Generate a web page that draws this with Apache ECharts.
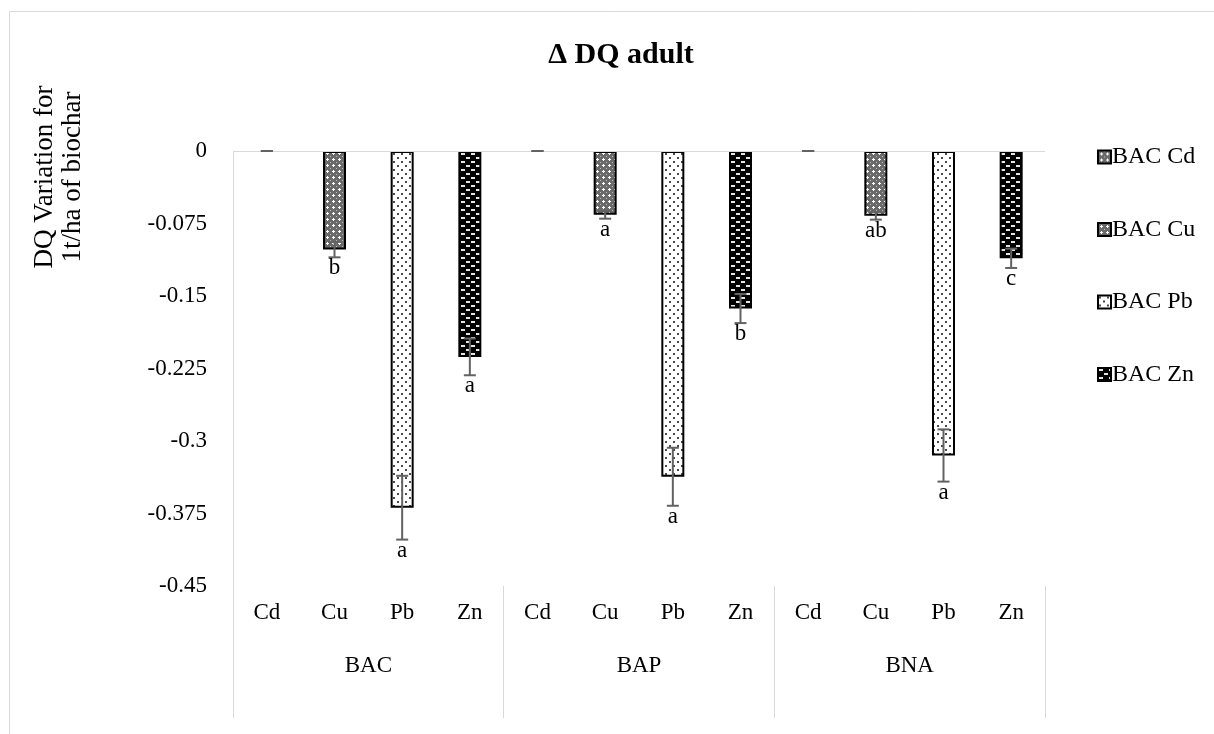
<!DOCTYPE html>
<html>
<head>
<meta charset="utf-8">
<script src="https://cdn.jsdelivr.net/npm/echarts@6/dist/echarts.min.js"></script>
<style>html,body{margin:0;padding:0;background:#fff}#chart{width:1214px;height:734px}</style>
</head>
<body>
<div id="chart"></div>
<script>
// ---- data ----
const groups = ['BAC', 'BAP', 'BNA'];
const metals = ['Cd', 'Cu', 'Pb', 'Zn'];
const seriesNames = ['BAC Cd', 'BAC Cu', 'BAC Pb', 'BAC Zn'];
const yTicks = [0, -0.075, -0.15, -0.225, -0.3, -0.375, -0.45];
// mean values per group, order Cd, Cu, Pb, Zn
const valBAC = [0, -0.102, -0.369, -0.213];
const valBAP = [0, -0.066, -0.337, -0.163];
const valBNA = [0, -0.067, -0.315, -0.111];
// error bar half-lengths
const errBAC = [0, 0.008, 0.033, 0.019];
const errBAP = [0, 0.004, 0.030, 0.015];
const errBNA = [0, 0.004, 0.027, 0.010];
// significance letters
const letBAC = ['', 'b', 'a', 'a'];
const letBAP = ['', 'a', 'a', 'b'];
const letBNA = ['', 'ab', 'a', 'c'];

const vals = [valBAC, valBAP, valBNA];
const errs = [errBAC, errBAP, errBNA];
const lets = [letBAC, letBAP, letBNA];

const categories = [];
groups.forEach(g => metals.forEach(m => categories.push(m)));

// ---- patterns ----
function makeTile(w, h, draw) {
  const c = document.createElement('canvas');
  c.width = w; c.height = h;
  const ctx = c.getContext('2d');
  draw(ctx);
  return { image: c, repeat: 'repeat' };
}
const patGrid = () => makeTile(6, 6, ctx => {
  ctx.fillStyle = '#6a6a6a'; ctx.fillRect(0, 0, 6, 6);
  ctx.fillStyle = '#ffffff';
  ctx.fillRect(2, 3, 3, 1); ctx.fillRect(3, 2, 1, 3);
  ctx.fillStyle = '#bdbdbd';
  ctx.fillRect(0, 0, 1, 1);
});
const patDots = () => makeTile(8, 8, ctx => {
  ctx.fillStyle = '#ffffff'; ctx.fillRect(0, 0, 8, 8);
  ctx.fillStyle = '#4a4a4a';
  ctx.fillRect(1, 1, 2, 2); ctx.fillRect(5, 5, 2, 2);
});
const patDash = () => makeTile(10, 8, ctx => {
  ctx.fillStyle = '#000000'; ctx.fillRect(0, 0, 10, 8);
  ctx.fillStyle = '#e6e6e6';
  ctx.fillRect(1, 1, 4, 2); ctx.fillRect(6, 5, 4, 2);
});
const patterns = [patGrid(), patGrid(), patDots(), patDash()];

const FONT = '"Liberation Serif", "Times New Roman", serif';

const barSeries = metals.map((m, mi) => {
  const data = [];
  groups.forEach((g, gi) => metals.forEach((m2, mj) => {
    if (mj !== mi) { data.push('-'); return; }
    const v = vals[gi][mj];
    data.push(v === 0 ? { value: v, itemStyle: { borderWidth: 0, opacity: 0 } } : v);
  }));
  const s = {
    name: seriesNames[mi],
    type: 'bar',
    xAxisIndex: 0,
    data: data,
    barWidth: 23,
    barGap: '-100%',
    itemStyle: { color: patterns[mi], borderColor: '#000', borderWidth: 2 },
    emphasis: { disabled: true },
    z: 2
  };
  if (mi === 0) {
    s.markLine = {
      silent: true, symbol: 'none', animation: false,
      label: { show: false },
      lineStyle: { color: '#d9d9d9', width: 1, type: 'solid' },
      data: [{ yAxis: 0 }]
    };
  }
  return s;
});

const errData = [];
const errLetters = [];
groups.forEach((g, gi) => metals.forEach((m, mj) => {
  errData.push([gi * 4 + mj, vals[gi][mj], errs[gi][mj]]);
  errLetters.push(lets[gi][mj]);
}));

const errSeries = {
  type: 'custom',
  xAxisIndex: 0,
  data: errData,
  z: 5,
  silent: true,
  renderItem: function (params, api) {
    const x = api.value(0), v = api.value(1), e = api.value(2);
    const top = api.coord([x, v + e]);
    const bot = api.coord([x, v - e]);
    const hw = 6;
    const st = { stroke: '#626262', lineWidth: 2 };
    const children = [
      { type: 'line', shape: { x1: top[0], y1: top[1], x2: bot[0], y2: bot[1] }, style: st },
      { type: 'line', shape: { x1: top[0] - hw, y1: top[1], x2: top[0] + hw, y2: top[1] }, style: st },
      { type: 'line', shape: { x1: bot[0] - hw, y1: bot[1], x2: bot[0] + hw, y2: bot[1] }, style: st }
    ];
    const t = errLetters[params.dataIndex];
    if (t) {
      children.push({ type: 'text', style: { text: t, x: bot[0], y: bot[1] + 11, align: 'center', verticalAlign: 'middle', font: '23px ' + FONT, fill: '#000' } });
    }
    return { type: 'group', children: children };
  }
};

const chart = echarts.init(document.getElementById('chart'), null, { renderer: 'canvas' });
chart.setOption({
  animation: false,
  backgroundColor: '#fff',
  grid: { left: 233, right: 169, top: 151, bottom: 148, containLabel: false },
  legend: {
    data: seriesNames,
    orient: 'vertical',
    left: 1092, top: 140,
    itemWidth: 13, itemHeight: 13, itemGap: 48.5,
    icon: 'rect',
    textStyle: { fontFamily: FONT, fontSize: 24, color: '#000', lineHeight: 24, padding: [0, 0, 0, -4] },
    selectedMode: false
  },
  xAxis: [
    {
      type: 'category', data: categories, position: 'bottom',
      axisLine: { show: false }, axisTick: { show: false },
      axisLabel: { margin: 15, fontFamily: FONT, fontSize: 23, color: '#000', interval: 0 }
    },
    {
      type: 'category', data: groups, position: 'bottom',
      axisLine: { show: false },
      axisTick: { show: true, length: 132, lineStyle: { color: '#d9d9d9', width: 1 } },
      axisLabel: { margin: 68, fontFamily: FONT, fontSize: 23, color: '#000' }
    }
  ],
  yAxis: {
    type: 'value', min: yTicks[yTicks.length - 1], max: yTicks[0], interval: 0.075,
    axisLine: { show: true, lineStyle: { color: '#d9d9d9', width: 1 } },
    axisTick: { show: false },
    splitLine: { show: false },
    axisLabel: { margin: 26, fontFamily: FONT, fontSize: 23, color: '#000',
      formatter: v => String(+v.toFixed(3)) }
  },
  graphic: [
    { type: 'rect', shape: { x: 9.5, y: 11.5, width: 1300, height: 800 }, style: { fill: 'none', stroke: '#d9d9d9', lineWidth: 1 }, silent: true, z: -10 },
    { type: 'text', x: 621, y: 55, style: { text: 'Δ DQ adult', font: 'bold 30px ' + FONT, fill: '#000', align: 'center', verticalAlign: 'middle' } },
    { type: 'text', x: 59, y: 177, rotation: Math.PI / 2, style: { text: 'DQ Variation for\n1t/ha of biochar', font: '27px ' + FONT, lineHeight: 28, fill: '#000', align: 'center', verticalAlign: 'middle' } }
  ],
  series: barSeries.concat([errSeries])
});
</script>
</body>
</html>
